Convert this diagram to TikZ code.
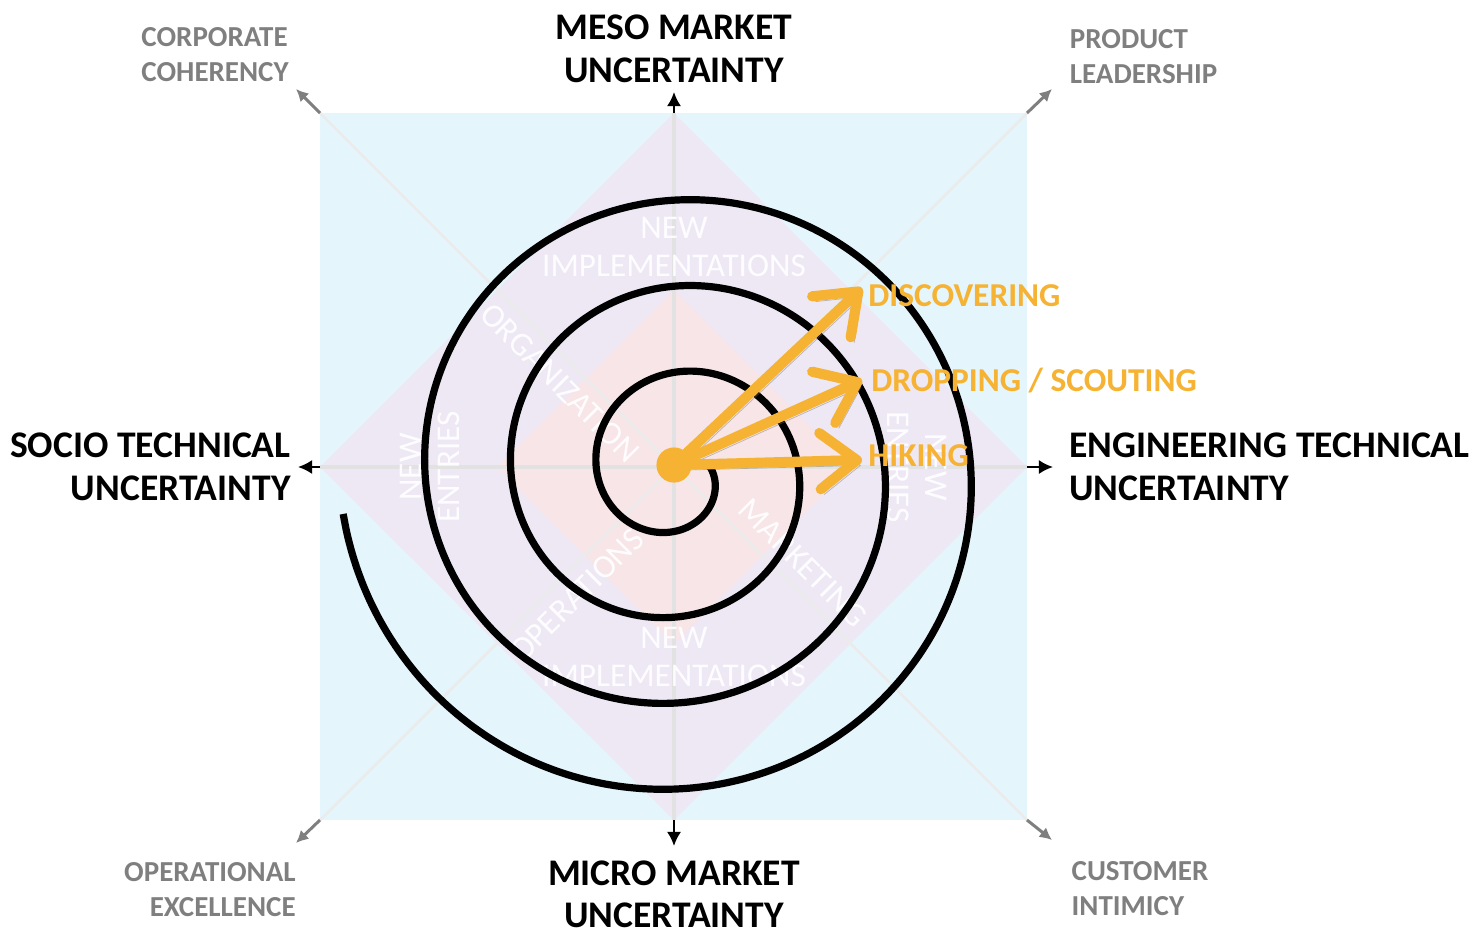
\documentclass[tikz,border=0pt]{standalone}
\usepackage{fontspec}
\setmainfont{Carlito}
\usetikzlibrary{arrows.meta}
\usetikzlibrary{positioning}

\definecolor{skyfill}{HTML}{E4F5FC}
\definecolor{lilacfill}{HTML}{EEE8F5}
\definecolor{rosefill}{HTML}{F7E5E7}
\definecolor{gridgray}{HTML}{E2E2E2}
\definecolor{labelgray}{HTML}{7F7F7F}
\definecolor{trailorange}{HTML}{F6B232}

\begin{document}
\begin{tikzpicture}[x=0.02cm, y=-0.02cm, % pixel-like units, y going down
    axis label/.style={font=\bfseries\fontsize{21.4}{24.4}\selectfont, inner sep=0pt},
    corner label/.style={font=\bfseries\fontsize{16.5}{19.8}\selectfont, text=labelgray, inner sep=0pt},
    trail label/.style={font=\bfseries\fontsize{19}{21}\selectfont, text=trailorange, inner sep=0pt, anchor=west},
    watermark/.style={font=\fontsize{18.9}{21.5}\selectfont, text=white, text opacity=.9, align=center, inner sep=0pt},
    grid line/.style={draw=gridgray, line width=2.8pt},
    diag line/.style={draw=gridgray!70, line width=1.6pt},
    axis arrow/.style={-{Latex[length=8pt,width=8pt]}, line width=1.2pt},
    corner arrow/.style={draw=labelgray, line width=1.7pt, -{Latex[length=7pt,width=7pt]}},
    spiral/.style={line width=4.1pt, line join=round},
    trail/.style={draw=trailorange, line width=5.8pt, line cap=round,
        -{Straight Barb[length=21pt,width=32pt,round]},
        preaction={draw=black!55, opacity=.45, transform canvas={shift={(2pt,-3pt)}}}},
    hubdot/.style={circle, fill=trailorange, minimum size=20pt, inner sep=0pt}
]
    \useasboundingbox (0,0) rectangle (1475,941);

    % Square corners and centre
    \coordinate (sqNW) at (320,113);
    \coordinate (sqNE) at (1027,113);
    \coordinate (sqSE) at (1027,820);
    \coordinate (sqSW) at (320,820);
    \coordinate (hub) at (674,465);

    % Background areas
    \fill[skyfill] (sqNW) rectangle (sqSE);
    \fill[lilacfill] (674,113) -- (1027,467) -- (674,820) -- (320,467) -- cycle;
    \fill[rosefill] (674,290) -- (851,467) -- (674,644) -- (497,467) -- cycle;

    % Grid lines
    \draw[diag line] (sqNW) -- (sqSE);
    \draw[diag line] (sqNE) -- (sqSW);
    \draw[grid line] (320,467) -- (1027,467);
    \draw[grid line] (674,113) -- (674,820);

    % Watermark texts
    \node[watermark] (implTop) at (674,247) {NEW\\IMPLEMENTATIONS};
    \node[watermark] (implBot) at (674,657) {NEW\\IMPLEMENTATIONS};
    \node[watermark, rotate=90] (entLeft) at (430,467) {NEW\\ENTRIES};
    \node[watermark, rotate=-90] (entRight) at (917,467) {NEW\\ENTRIES};
    \node[watermark, rotate=-45] (organization) at (560,383) {ORGANIZATION};
    \node[watermark, rotate=-45] (marketing) at (803,563) {MARKETING};
    \node[watermark, rotate=45] (operations) at (577,595) {OPERATIONS};

    % Spiral (r grows 86 px per turn)
    \draw[spiral] plot[domain=-15:1253, samples=400, smooth, variable=\t]
        ({676.5+(36.5+0.238889*\t)*cos(\t)}, {473+(36.5+0.238889*\t)*sin(\t)});

    % Axis arrows
    \coordinate (nTip) at (674,92);
    \coordinate (sTip) at (674,846);
    \coordinate (wTip) at (298,467);
    \coordinate (eTip) at (1053,467);
    \draw[axis arrow] (674,113) -- (nTip);
    \draw[axis arrow] (674,820) -- (sTip);
    \draw[axis arrow] (320,467) -- (wTip);
    \draw[axis arrow] (1027,467) -- (eTip);

    % Corner arrows
    \coordinate (nwTip) at (296,89);
    \coordinate (neTip) at (1052,89);
    \coordinate (swTip) at (296,843);
    \coordinate (seTip) at (1052,840);
    \draw[corner arrow] (sqNW) -- (nwTip);
    \draw[corner arrow] (sqNE) -- (neTip);
    \draw[corner arrow] (sqSW) -- (swTip);
    \draw[corner arrow] (sqSE) -- (seTip);

    % Axis labels
    \node[axis label, align=center, above=5pt of nTip] (meso) {MESO MARKET\\UNCERTAINTY};
    \node[axis label, align=center, below=8pt of sTip] (micro) {MICRO MARKET\\UNCERTAINTY};
    \node[axis label, align=right, left=4pt of wTip] (socio) {SOCIO TECHNICAL\\UNCERTAINTY};
    \node[axis label, align=left, right=9pt of eTip] (engineering) {ENGINEERING TECHNICAL\\UNCERTAINTY};

    % Corner labels
    \node[corner label, align=left, above left=4pt and 4pt of nwTip] (corporate) {CORPORATE\\COHERENCY};
    \node[corner label, align=left, above right=3pt and 10pt of neTip] (product) {PRODUCT\\LEADERSHIP};
    \node[corner label, align=right, below left=11pt and 0pt of swTip] (operational) {OPERATIONAL\\EXCELLENCE};
    \node[corner label, align=left, below right=12pt and 11pt of seTip] (customer) {CUSTOMER\\INTIMICY};

    % Trail arrows
    \coordinate (discTip) at (862,288);
    \coordinate (dropTip) at (862,380);
    \coordinate (hikeTip) at (862,460);
    \draw[trail] (hub) -- (discTip);
    \draw[trail] (hub) -- (dropTip);
    \draw[trail] (hub) -- (hikeTip);
    \node[hubdot] (dot) at (hub) {};

    \node[trail label] (discovering) at (868,296) {DISCOVERING};
    \node[trail label] (dropping) at (871,381) {DROPPING / SCOUTING};
    \node[trail label] (hiking) at (868,456) {HIKING};
\end{tikzpicture}
\end{document}
